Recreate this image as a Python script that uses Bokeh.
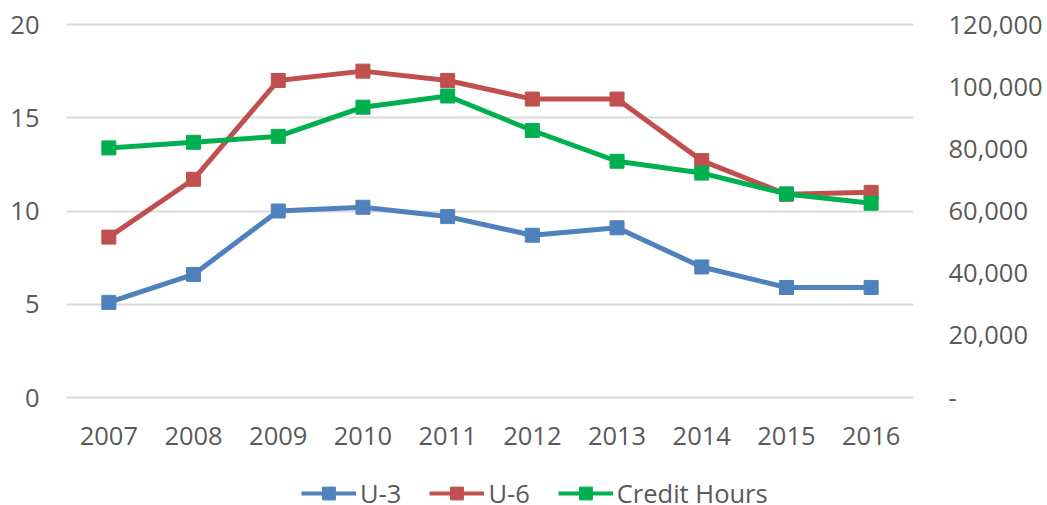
from bokeh.plotting import figure
from bokeh.layouts import column
from bokeh.models import (Range1d, LinearAxis, Legend, LegendItem, FactorRange,
                          FixedTicker)
from bokeh.embed import file_html
from bokeh.resources import INLINE

years = ["2007", "2008", "2009", "2010", "2011", "2012", "2013", "2014", "2015", "2016"]
u3 = [5.1, 6.6, 10.0, 10.2, 9.7, 8.7, 9.1, 7.0, 5.9, 5.9]
u6 = [8.6, 11.7, 17.0, 17.5, 17.0, 16.0, 16.0, 12.7, 10.9, 11.0]
credit_hours = [80300, 82100, 84000, 93400, 97000, 85900, 76000, 72200, 65500, 62500]
left_ticks = [0, 5, 10, 15, 20]
right_ticks = [0, 20000, 40000, 60000, 80000, 100000, 120000]
right_labels = ["-", "20,000", "40,000", "60,000", "80,000", "100,000", "120,000"]
series_names = ["U-3", "U-6", "Credit Hours"]

FONT = "Open Sans"
FS = "25.5px"
TXT = "#595959"
GRID = "#D9D9D9"
BLUE = "#4F81BD"
RED = "#C0504D"
GREEN = "#00B050"

# small pad so that the 0 and 20 gridlines are fully visible
padL = 20 / 373 * 2
padR = 120000 / 373 * 2

p = figure(width=1047, height=462, output_backend="svg", toolbar_location=None,
           x_range=FactorRange(*years, range_padding=0),
           y_range=Range1d(0 - padL, 20 + padL),
           min_border_left=66, min_border_right=134, min_border_top=22,
           min_border_bottom=63)
p.extra_y_ranges = {"hours": Range1d(0 - padR, 120000 + padR)}
p.outline_line_color = None
p.xgrid.grid_line_color = None
p.ygrid.grid_line_color = GRID
p.ygrid.grid_line_width = 2
p.ygrid.ticker = FixedTicker(ticks=left_ticks)

def style_axis(ax, standoff):
    ax.axis_line_color = None
    ax.major_tick_line_color = None
    ax.minor_tick_line_color = None
    ax.major_tick_out = 0
    ax.major_tick_in = 0
    ax.minor_tick_out = 0
    ax.minor_tick_in = 0
    ax.major_label_standoff = standoff
    ax.major_label_text_font = FONT
    ax.major_label_text_font_size = FS
    ax.major_label_text_color = TXT

ya = p.yaxis[0]
ya.ticker = FixedTicker(ticks=left_ticks)
style_axis(ya, 27)

ra = LinearAxis(y_range_name="hours", ticker=FixedTicker(ticks=right_ticks))
ra.major_label_overrides = {t: l for t, l in zip(right_ticks, right_labels)}
style_axis(ra, 35)
p.add_layout(ra, "right")

style_axis(p.xaxis[0], 27)

r1l = p.line(years, u3, line_color=BLUE, line_width=5, line_join="round")
r1m = p.scatter(years, u3, marker="square", size=14, fill_color=BLUE, line_color=BLUE)
r2l = p.line(years, u6, line_color=RED, line_width=5, line_join="round")
r2m = p.scatter(years, u6, marker="square", size=14, fill_color=RED, line_color=RED)
r3l = p.line(years, credit_hours, line_color=GREEN, line_width=5, line_join="round",
             y_range_name="hours")
r3m = p.scatter(years, credit_hours, marker="square", size=14, fill_color=GREEN,
                line_color=GREEN, y_range_name="hours")

# legend strip below the chart (its frame is aligned with the chart frame)
lg = figure(width=1047, height=43, output_backend="svg", toolbar_location=None,
            x_range=Range1d(0, 1), y_range=Range1d(0, 1),
            x_axis_type=None, y_axis_type=None,
            min_border_left=0, min_border_right=0, min_border_top=0,
            min_border_bottom=0)
lg.outline_line_color = None
lg.xgrid.grid_line_color = None
lg.ygrid.grid_line_color = None
items = []
for name, col in zip(series_names, [BLUE, RED, GREEN]):
    # proxy renderers placed outside the visible range, used only for legend glyphs
    rl = lg.line([-5, -4], [-5, -4], line_color=col, line_width=4)
    rm = lg.scatter([-5], [-5], marker="square", size=13, fill_color=col, line_color=col)
    items.append(LegendItem(label=name, renderers=[rl, rm]))

legend = Legend(items=items, orientation="horizontal", location=(235, -5),
                glyph_width=55, glyph_height=32, label_standoff=4, spacing=28,
                padding=0, margin=0, border_line_color=None,
                background_fill_alpha=0,
                label_text_font=FONT, label_text_font_size=FS,
                label_text_color=TXT)
lg.add_layout(legend, "center")

layout = column(p, lg, spacing=0)
open("out.html", "w").write(file_html(layout, INLINE))
